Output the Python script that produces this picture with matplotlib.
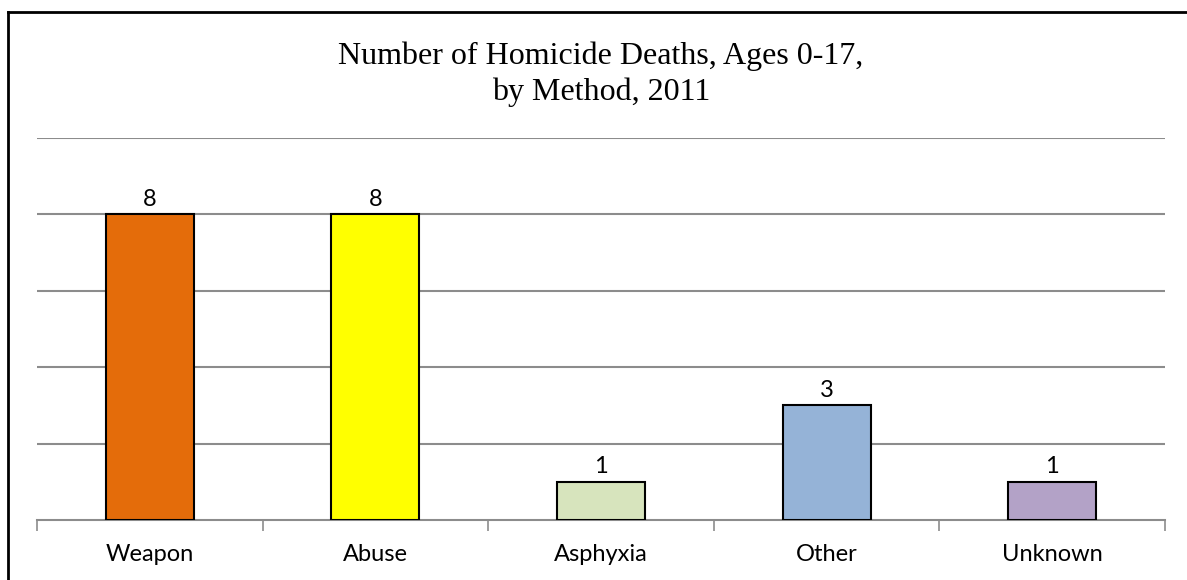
import matplotlib.pyplot as plt
from matplotlib.lines import Line2D

# chart data
methods = ['Weapon', 'Abuse', 'Asphyxia', 'Other', 'Unknown']
deaths = [8, 8, 1, 3, 1]
colors = ['#E46C0A', '#FFFF00', '#D7E4BD', '#95B3D7', '#B3A2C7']

fig = plt.figure(figsize=(11.87, 5.8), dpi=100)
ax = fig.add_axes([37 / 1187, 1 - 520 / 580, 1128 / 1187, 382 / 580])

x = range(len(methods))
bars = ax.bar(x, deaths, width=0.39, color=colors, edgecolor='black', linewidth=1.5, zorder=3)

for b, v in zip(bars, deaths):
    ax.text(b.get_x() + b.get_width() / 2, v + 0.12, str(v), ha='center', va='bottom',
            fontsize=17, family='Lato')

ax.set_xlim(-0.5, len(methods) - 0.5)
ax.set_ylim(0, 10)
ax.set_yticks([2, 4, 6, 8, 10])
ax.yaxis.grid(True, color='#8c8c8c', linewidth=1.5)
ax.tick_params(axis='y', left=False, labelleft=False)

# category ticks sit between the bars
ax.set_xticks([i - 0.5 for i in range(len(methods) + 1)])
ax.set_xticklabels([])
ax.set_xticks(list(x), minor=True)
ax.set_xticklabels(methods, minor=True, fontsize=17, family='Lato')
ax.tick_params(axis='x', which='major', length=8, width=1.2, color='#8c8c8c')
ax.tick_params(axis='x', which='minor', length=0, pad=17)

for s in ['left', 'right', 'top']:
    ax.spines[s].set_visible(False)
ax.spines['bottom'].set_color('#8c8c8c')
ax.spines['bottom'].set_linewidth(1.5)
ax.set_axisbelow(True)

fig.text(601 / 1187, 1 - 74 / 580, 'Number of Homicide Deaths, Ages 0-17,\nby Method, 2011',
         ha='center', va='center', fontsize=23, family='Liberation Serif', linespacing=1.27)

# outer frame (partly cut off at the right and bottom)
fx, fy = 8 / 1187, 1 - 12 / 580
fig.add_artist(Line2D([fx, fx], [fy, -0.1], transform=fig.transFigure, color='black', linewidth=2))
fig.add_artist(Line2D([fx, 1.1], [fy, fy], transform=fig.transFigure, color='black', linewidth=2))

fig.savefig('out.png', dpi=100)
